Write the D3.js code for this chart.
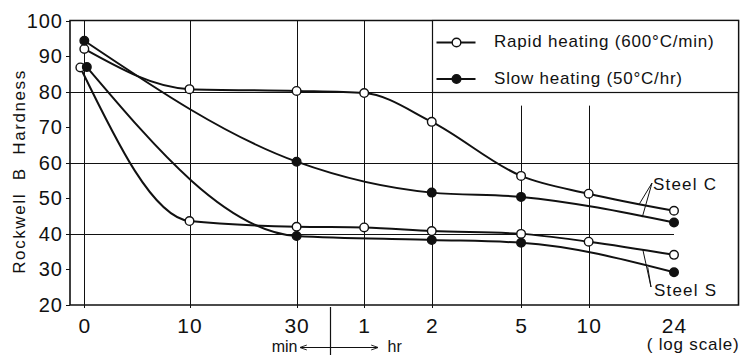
<!DOCTYPE html>
<html>
<head>
<meta charset="utf-8">
<script src="https://cdn.jsdelivr.net/npm/d3@7"></script>
<style>
  body { margin: 0; background: #fff; }
  svg { display: block; font-family: "Liberation Sans", Arial, sans-serif; }
</style>
</head>
<body>
<div id="chart"></div>
<script>
// time in minutes; 0 is drawn at a pseudo position left of 10 min
const tickTimes = [0, 10, 30, 60, 120, 300, 600, 1440];
const tickLabels = ['0', '10', '30', '1', '2', '5', '10', '24'];
const yTicks = [20, 30, 40, 50, 60, 70, 80, 90, 100];

const rapidTimes = [0, 10, 30, 60, 120, 300, 600, 1440];
const slowTimes = [0, 30, 120, 300, 1440];

const rapidC = [92, 80.7, 80.2, 79.6, 71.5, 56.3, 51.3, 46.5];
const slowC = [94.3, 60.3, 51.6, 50.4, 43.2];
const rapidS = [86.8, 43.6, 42.0, 41.8, 40.8, 40.0, 37.8, 34.1];
const slowS = [86.9, 39.4, 38.3, 37.5, 29.2];

const legendLabels = ['Rapid heating (600°C/min)', 'Slow heating (50°C/hr)'];

const width = 741, height = 357;
const pLeft = 70, pRight = 738.5, pTop = 20.5, pBottom = 305;
const zeroAt = 3.4;       // pseudo minutes for the "0" column
const boundary = Math.sqrt(30 * 60); // min | hr divider

const xLog = d3.scaleLog().domain([10, 1440]).range([189.5, 674]);
const x = t => xLog(t === 0 ? zeroAt : t);
const y = d3.scaleLinear().domain([20, 100]).range([pBottom, pTop]);

const series = [
  { times: rapidTimes, values: rapidC, open: true, nudge: 0 },
  { times: slowTimes, values: slowC, open: false, nudge: 0 },
  { times: rapidTimes, values: rapidS, open: true, nudge: -4 },
  { times: slowTimes, values: slowS, open: false, nudge: 2.5 }
];

const svg = d3.select('#chart').append('svg')
  .attr('width', width).attr('height', height);

const ink = '#111';

// grid: vertical lines
const grid = svg.append('g').attr('stroke', ink).attr('stroke-width', 1).attr('fill', 'none');
tickTimes.forEach(t => {
  if (t === 1440) return;
  const gx = Math.round(x(t)) + 0.5;
  const y0 = t >= 300 ? y(80) + 14 : pTop;
  grid.append('line').attr('x1', gx).attr('x2', gx).attr('y1', y0).attr('y2', pBottom + 3);
});
// horizontal lines
[[80, pRight], [60, pRight], [40, x(1440)]].forEach(([v, x2]) => {
  const gy = Math.round(y(v)) + 0.5;
  grid.append('line').attr('x1', pLeft - 4).attr('x2', x2).attr('y1', gy).attr('y2', gy);
});
// left ticks
yTicks.forEach(v => {
  const gy = Math.round(y(v)) + 0.5;
  grid.append('line').attr('x1', pLeft - 4).attr('x2', pLeft).attr('y1', gy).attr('y2', gy);
});

// frame
svg.append('path')
  .attr('d', `M${pLeft},${pTop}H${pRight}V${pBottom}H${pLeft}Z`)
  .attr('fill', 'none').attr('stroke', ink).attr('stroke-width', 1.6);

// y tick labels
svg.append('g').selectAll('text').data(yTicks).join('text')
  .attr('x', 63).attr('y', d => y(d) + 7)
  .attr('text-anchor', 'end').attr('font-size', 20).attr('letter-spacing', 1)
  .attr('fill', ink)
  .text(d => d);

// x tick labels
svg.append('g').selectAll('text').data(tickTimes).join('text')
  .attr('x', d => x(d) + 0.5).attr('y', 333)
  .attr('text-anchor', 'middle').attr('font-size', 21).attr('letter-spacing', 1)
  .attr('fill', ink)
  .text((d, i) => tickLabels[i]);

// min | hr divider with arrows
const bx = Math.round(xLog(boundary)) + 0.5;
svg.append('line').attr('x1', bx).attr('x2', bx).attr('y1', pBottom + 2).attr('y2', 355)
  .attr('stroke', ink).attr('stroke-width', 1.2);
const defs = svg.append('defs');
defs.append('marker').attr('id', 'arr').attr('viewBox', '0 0 10 10')
  .attr('refX', 9).attr('refY', 5).attr('markerWidth', 7).attr('markerHeight', 7)
  .attr('markerUnits', 'userSpaceOnUse')
  .attr('orient', 'auto')
  .append('path').attr('d', 'M0,1.5L10,5L0,8.5').attr('fill', 'none').attr('stroke', ink).attr('stroke-width', 1.3);
svg.append('line').attr('x1', bx).attr('x2', bx - 30).attr('y1', 347.5).attr('y2', 347.5)
  .attr('stroke', ink).attr('stroke-width', 1).attr('marker-end', 'url(#arr)');
svg.append('line').attr('x1', bx).attr('x2', bx + 47).attr('y1', 347.5).attr('y2', 347.5)
  .attr('stroke', ink).attr('stroke-width', 1).attr('marker-end', 'url(#arr)');
svg.append('text').attr('x', bx - 33).attr('y', 351.5)
  .attr('text-anchor', 'end').attr('font-size', 16)
  .attr('fill', ink).text('min');
svg.append('text').attr('x', bx + 57).attr('y', 351.5)
  .attr('font-size', 16).attr('fill', ink).text('hr');
svg.append('text').attr('x', pRight + 1).attr('y', 350)
  .attr('text-anchor', 'end').attr('font-size', 17).attr('letter-spacing', 0.8)
  .attr('fill', ink).text('( log scale)');

// y label
svg.append('text')
  .attr('transform', 'translate(19,171.5) rotate(-90)')
  .attr('dy', '0.36em').attr('text-anchor', 'middle')
  .attr('font-size', 17).attr('letter-spacing', 1.6).attr('fill', ink)
  .style('white-space', 'pre')
  .text('Rockwell  B  Hardness');

// curves
const line = d3.line().curve(d3.curveMonotoneX);
const pts = s => s.times.map((t, i) => [x(t) + (i === 0 ? s.nudge : 0), y(s.values[i])]);

series.forEach(s => {
  svg.append('path').attr('d', line(pts(s)))
    .attr('fill', 'none').attr('stroke', ink).attr('stroke-width', 2);
});
series.forEach(s => {
  svg.append('g').selectAll('circle').data(pts(s)).join('circle')
    .attr('cx', d => d[0]).attr('cy', d => d[1]).attr('r', 4.3)
    .attr('fill', s.open ? '#fff' : ink)
    .attr('stroke', ink).attr('stroke-width', 1.4);
});

// steel labels with leaders ending on the curves near 17-18 hr
function yAt(s, t) {
  const p = pts(s);
  const px = x(t);
  for (let i = 1; i < p.length; i++) {
    if (px <= p[i][0]) {
      const f = (px - p[i - 1][0]) / (p[i][0] - p[i - 1][0]);
      return p[i - 1][1] + f * (p[i][1] - p[i - 1][1]);
    }
  }
  return p[p.length - 1][1];
}
const leaders = [
  { label: 'Steel C', from: [652, 183], tx: 653, ty: 189.5, ends: [[series[0], 1010], [series[1], 1040]] },
  { label: 'Steel S', from: [651, 287], tx: 654, ty: 296, ends: [[series[2], 1047], [series[3], 1100]] }
];
leaders.forEach(l => {
  l.ends.forEach(([s, t]) => {
    svg.append('line').attr('x1', l.from[0]).attr('y1', l.from[1])
      .attr('x2', x(t)).attr('y2', yAt(s, t))
      .attr('stroke', ink).attr('stroke-width', 1);
  });
  svg.append('text').attr('x', l.tx).attr('y', l.ty)
    .attr('font-size', 17).attr('letter-spacing', 1.2).attr('fill', ink).text(l.label);
});

// legend
const lx = Math.round(x(120)) + 0.5;
svg.append('rect').attr('x', lx).attr('y', pTop).attr('width', pRight - lx)
  .attr('height', Math.round(y(80)) + 0.5 - pTop)
  .attr('fill', '#fff').attr('stroke', ink).attr('stroke-width', 1.2);
legendLabels.forEach((lab, i) => {
  const ly = i === 0 ? 42.5 : 79;
  const g = svg.append('g');
  g.append('line').attr('x1', lx + 4).attr('x2', lx + 43).attr('y1', ly).attr('y2', ly)
    .attr('stroke', ink).attr('stroke-width', 1.8);
  g.append('circle').attr('cx', lx + 24).attr('cy', ly).attr('r', 4.3)
    .attr('fill', i === 0 ? '#fff' : ink).attr('stroke', ink).attr('stroke-width', 1.4);
  g.append('text').attr('x', 494).attr('y', ly + 4.5)
    .attr('font-size', 17).attr('letter-spacing', 0.8).attr('fill', ink).text(lab);
});
</script>
</body>
</html>
